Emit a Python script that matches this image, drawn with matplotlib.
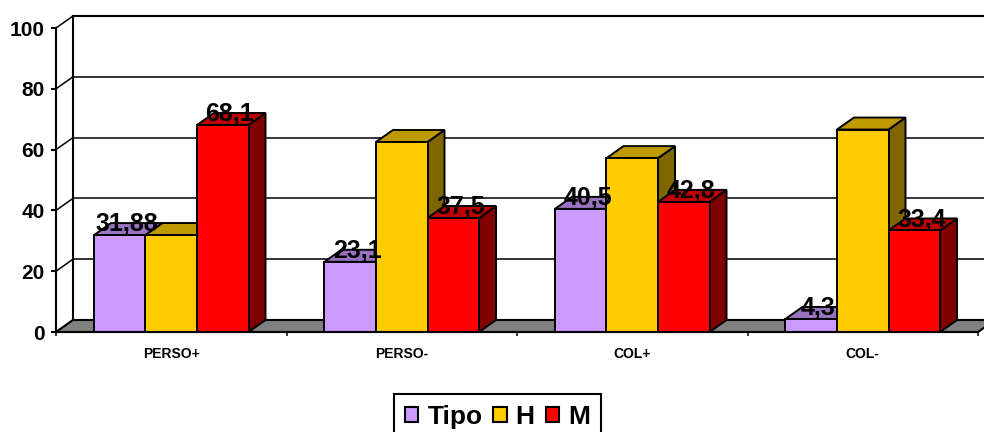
import matplotlib
matplotlib.use('Agg')
import matplotlib.pyplot as plt
from matplotlib.patches import Polygon, Patch

plt.rcParams['font.family'] = ['Liberation Sans', 'DejaVu Sans']
plt.rcParams['font.weight'] = 'bold'

categories = ['PERSO+', 'PERSO-', 'COL+', 'COL-']
series_names = ['Tipo', 'H', 'M']
tipo = [31.88, 23.1, 40.5, 4.3]
h = [31.9, 62.5, 57.2, 66.6]
m = [68.1, 37.5, 42.8, 33.4]
# only these get a label in the original
tipo_labels = ['31,88', '23,1', '40,5', '4,3']
m_labels = ['68,1', '37,5', '42,8', '33,4']
y_ticks = [0, 20, 40, 60, 80, 100]

front = ['#CC99FF', '#FFCC00', '#FF0000']
top = ['#9973BF', '#BF9900', '#BF0000']
side = ['#664C80', '#806600', '#800000']

W, H = 984, 432
fig = plt.figure(figsize=(W / 100, H / 100), dpi=100)
ax = fig.add_axes([56 / W, 1 - 332 / H, (978 - 56) / W, (332 - 28) / H])
ax.set_xlim(0, 4)
ax.set_ylim(0, 100)

# depth of the fake 3d box, in data units
dx = 17 / 230.5
dy = 12 / 3.04
bar_w = 0.2235
lw_thick = 1.5
lw_thin = 1.1


def poly(pts, color, z, lw=1.4):
    ax.add_patch(Polygon(pts, closed=True, facecolor=color, edgecolor='black',
                         linewidth=lw, joinstyle='miter', clip_on=False, zorder=z))


# back wall and gridlines
for v in y_ticks:
    lw = lw_thick if v == 100 else lw_thin
    ax.plot([dx, 4 + dx], [v + dy, v + dy], color='black', lw=lw, clip_on=False, zorder=1)
    ax.plot([0, dx], [v, v + dy], color='black', lw=lw_thin, clip_on=False, zorder=1)
ax.plot([dx, dx], [dy, 100 + dy], color='black', lw=lw_thick, clip_on=False, zorder=1)

# floor
poly([(0, 0), (dx, dy), (4 + dx, dy), (4, 0)], '#808080', 2, lw=lw_thick)

# bars, left to right so each one covers the side of the previous one
z = 3
for g in range(len(categories)):
    start = g + 0.5 - 1.5 * bar_w
    for s, values in enumerate([tipo, h, m]):
        x0 = start + s * bar_w
        x1 = x0 + bar_w
        v = values[g]
        poly([(x1, 0), (x1 + dx, dy), (x1 + dx, v + dy), (x1, v)], side[s], z)
        poly([(x0, v), (x0 + dx, v + dy), (x1 + dx, v + dy), (x1, v)], top[s], z)
        ax.bar(x0, v, width=bar_w, align='edge', color=front[s], edgecolor='black',
               linewidth=1.4, zorder=z, clip_on=False)
        z += 1

# data labels
for g in range(len(categories)):
    start = g + 0.5 - 1.5 * bar_w
    for s, values, labels in [(0, tipo, tipo_labels), (2, m, m_labels)]:
        xc = start + (s + 0.5) * bar_w
        ax.annotate(labels[g], (xc, values[g]), xytext=(5.2, 2.8),
                    textcoords='offset points', ha='center', va='baseline',
                    fontsize=18, fontweight='bold', color='black', zorder=50,
                    annotation_clip=False)

for name in ['top', 'right']:
    ax.spines[name].set_visible(False)
for name in ['left', 'bottom']:
    ax.spines[name].set_linewidth(lw_thick)
    ax.spines[name].set_zorder(40)

ax.set_yticks(y_ticks)
ax.set_yticklabels([str(v) for v in y_ticks], fontsize=15, fontweight='bold')
ax.tick_params(axis='y', length=3.5, width=lw_thick, pad=4.5)
ax.set_xticks([0, 1, 2, 3, 4])
ax.set_xticklabels([])
ax.tick_params(axis='x', which='major', length=3, width=1.1)
ax.set_xticks([0.5, 1.5, 2.5, 3.5], minor=True)
ax.set_xticklabels(categories, minor=True, fontsize=10, fontweight='bold')
ax.tick_params(axis='x', which='minor', length=0, pad=10.5)
ax.patch.set_visible(False)

handles = [Patch(facecolor=c, edgecolor='black', linewidth=1.5) for c in front]
leg = fig.legend(handles, series_names, ncol=3, loc='lower left',
                 bbox_to_anchor=(394 / W, -8 / H), bbox_transform=fig.transFigure,
                 frameon=True, fancybox=False, framealpha=1,
                 edgecolor='black', handlelength=0.5, handleheight=0.5,
                 handletextpad=0.34, columnspacing=0.42, borderpad=0.42,
                 borderaxespad=0, prop={'size': 19, 'weight': 'bold'})
leg.get_frame().set_linewidth(1.5)

fig.savefig('out.png', dpi=100)
